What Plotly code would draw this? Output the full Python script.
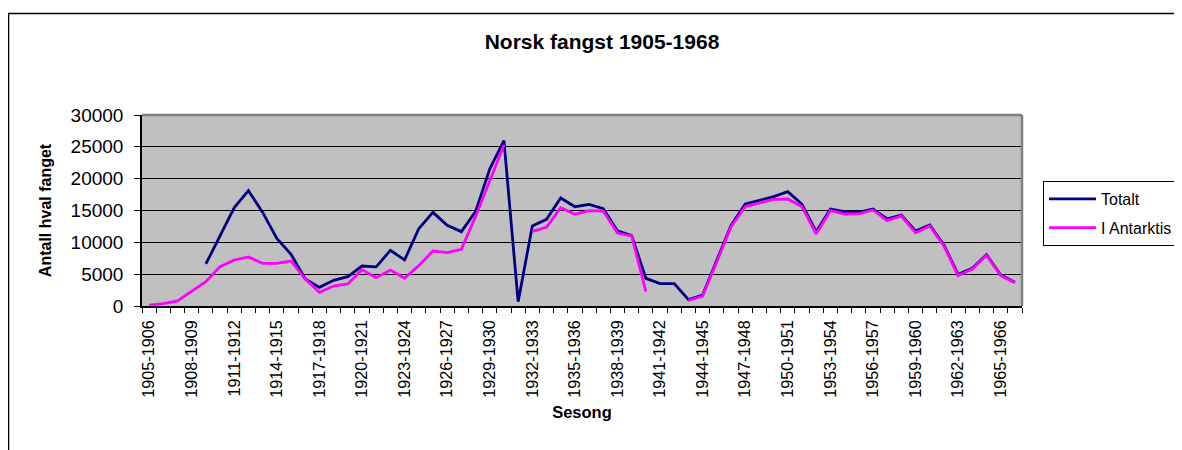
import plotly.graph_objects as go

seasons = [
    "1905-1906", "1906-1907", "1907-1908", "1908-1909", "1909-1910", "1910-1911",
    "1911-1912", "1912-1913", "1913-1914", "1914-1915", "1915-1916", "1916-1917",
    "1917-1918", "1918-1919", "1919-1920", "1920-1921", "1921-1922", "1922-1923",
    "1923-1924", "1924-1925", "1925-1926", "1926-1927", "1927-1928", "1928-1929",
    "1929-1930", "1930-1931", "1931-1932", "1932-1933", "1933-1934", "1934-1935",
    "1935-1936", "1936-1937", "1937-1938", "1938-1939", "1939-1940", "1940-1941",
    "1941-1942", "1942-1943", "1943-1944", "1944-1945", "1945-1946", "1946-1947",
    "1947-1948", "1948-1949", "1949-1950", "1950-1951", "1951-1952", "1952-1953",
    "1953-1954", "1954-1955", "1955-1956", "1956-1957", "1957-1958", "1958-1959",
    "1959-1960", "1960-1961", "1961-1962", "1962-1963", "1963-1964", "1964-1965",
    "1965-1966", "1966-1967",
]

totalt = [
    None, None, None, None, 6600, 11150, 15450, 18120, 14700, 10630, 8120, 4240,
    2930, 4030, 4610, 6280, 6150, 8740, 7230, 12150, 14710, 12670, 11680, 14820,
    21520, 25970, 680, 12570, 13610, 16960, 15600, 15970, 15290, 11800, 11050, 4350,
    3510, 3510, 1000, 1730, 7230, 12670, 16020, 16550, 17170, 17960, 15970, 11680,
    15240, 14820, 14720, 15240, 13670, 14290, 11780, 12720, 9580, 4970, 5920, 8060,
    4870, 3720,
]

i_antarktis = [
    150, 370, 790, 2350, 3820, 6180, 7230, 7700, 6700, 6700, 7070, 4240,
    2150, 3140, 3460, 5700, 4450, 5650, 4350, 6340, 8640, 8380, 8900, 14030,
    19790, 25290, None, 11730, 12360, 15450, 14400, 14980, 14920, 11450, 11000, 2250,
    None, None, 890, 1570, 6960, 12460, 15600, 16130, 16750, 16810, 15600, 11310,
    14980, 14450, 14480, 15080, 13400, 14140, 11520, 12570, 9420, 4760, 5810, 7960,
    4760, 3670,
]

y_ticks = [0, 5000, 10000, 15000, 20000, 25000, 30000]
y_ticktext = ["0", "5000", "10000", "15000", "20000", "25000", "30000"]
x_ticktext = [s if k % 3 == 0 else "" for k, s in enumerate(seasons)]

FONT = "Arial, Liberation Sans, sans-serif"

fig = go.Figure()
fig.add_trace(go.Scatter(
    x=seasons, y=totalt, mode="lines", name="Totalt",
    line=dict(color="#000080", width=2.8), legendgroup="a",
))
fig.add_trace(go.Scatter(
    x=seasons, y=i_antarktis, mode="lines", name="I Antarktis",
    line=dict(color="#FF00FF", width=2.8), legendgroup="b",
))

# page body has an 8px margin: work in screen coords, shift by OFF
OFF = 8
W, H = 1182 - OFF, 450 - OFF
L, R, T, B = 142 - OFF, 1022 - OFF, 115 - OFF, 306 - OFF
pw, ph = R - L, B - T


def px(xs):
    return (xs - OFF - L) / pw


def py(ys):
    return (B - (ys - OFF)) / ph


fig.update_layout(
    width=W, height=H,
    margin=dict(l=L, r=W - R, t=T, b=H - B, autoexpand=False),
    paper_bgcolor="white",
    plot_bgcolor="#C0C0C0",
    font=dict(family=FONT, color="black"),
    title=dict(
        text="<b>Norsk fangst 1905-1968</b>",
        font=dict(size=21, family=FONT, color="black"),
        x=(602 - OFF) / W, xanchor="center", xref="container",
        y=1 - (42 - OFF) / H, yanchor="middle", yref="container",
    ),
    showlegend=True,
    legend=dict(
        x=px(1043), y=py(181), xanchor="left", yanchor="top",
        bgcolor="white", bordercolor="black", borderwidth=1,
        font=dict(size=16, family=FONT, color="black"),
        traceorder="grouped", tracegroupgap=5,
        itemwidth=47,
    ),
    xaxis=dict(
        type="category",
        range=[-0.5, len(seasons) - 0.5],
        tickmode="array", tickvals=seasons, ticktext=x_ticktext,
        tickson="boundaries",
        tickangle=-90,
        ticks="outside", ticklen=5, tickcolor="black", tickwidth=1,
        tickfont=dict(size=16.2, family=FONT, color="black"),
        ticklabelstandoff=6,
        showline=True, linecolor="black", linewidth=1.5,
        showgrid=False, zeroline=False,
        title=dict(text="<b>Sesong</b>", font=dict(size=16.5, family=FONT, color="black"),
                   standoff=10),
    ),
    yaxis=dict(
        range=[0, 30000],
        tickmode="array", tickvals=y_ticks, ticktext=y_ticktext,
        ticks="outside", ticklen=6, tickcolor="black", tickwidth=1,
        tickfont=dict(size=19, family=FONT, color="black"),
        ticklabelstandoff=7,
        showline=True, linecolor="black", linewidth=1.5,
        showgrid=True, gridcolor="black", gridwidth=1,
        zeroline=False,
        title=dict(text="<b>Antall hval fanget</b>", font=dict(size=16, family=FONT, color="black"),
                   standoff=15),
    ),
    shapes=[
        dict(type="line", xref="paper", yref="paper", x0=0, x1=1, y0=1, y1=1,
             line=dict(color="#808080", width=2.5), layer="above"),
        dict(type="line", xref="paper", yref="paper", x0=1, x1=1, y0=0, y1=1,
             line=dict(color="#808080", width=2.5), layer="above"),
        dict(type="rect", xref="paper", yref="paper",
             x0=px(8.5), x1=px(1300), y0=py(13.5), y1=py(470),
             line=dict(color="black", width=1.6), fillcolor="rgba(0,0,0,0)", layer="above"),
    ],
)

fig.write_html("out.html")
